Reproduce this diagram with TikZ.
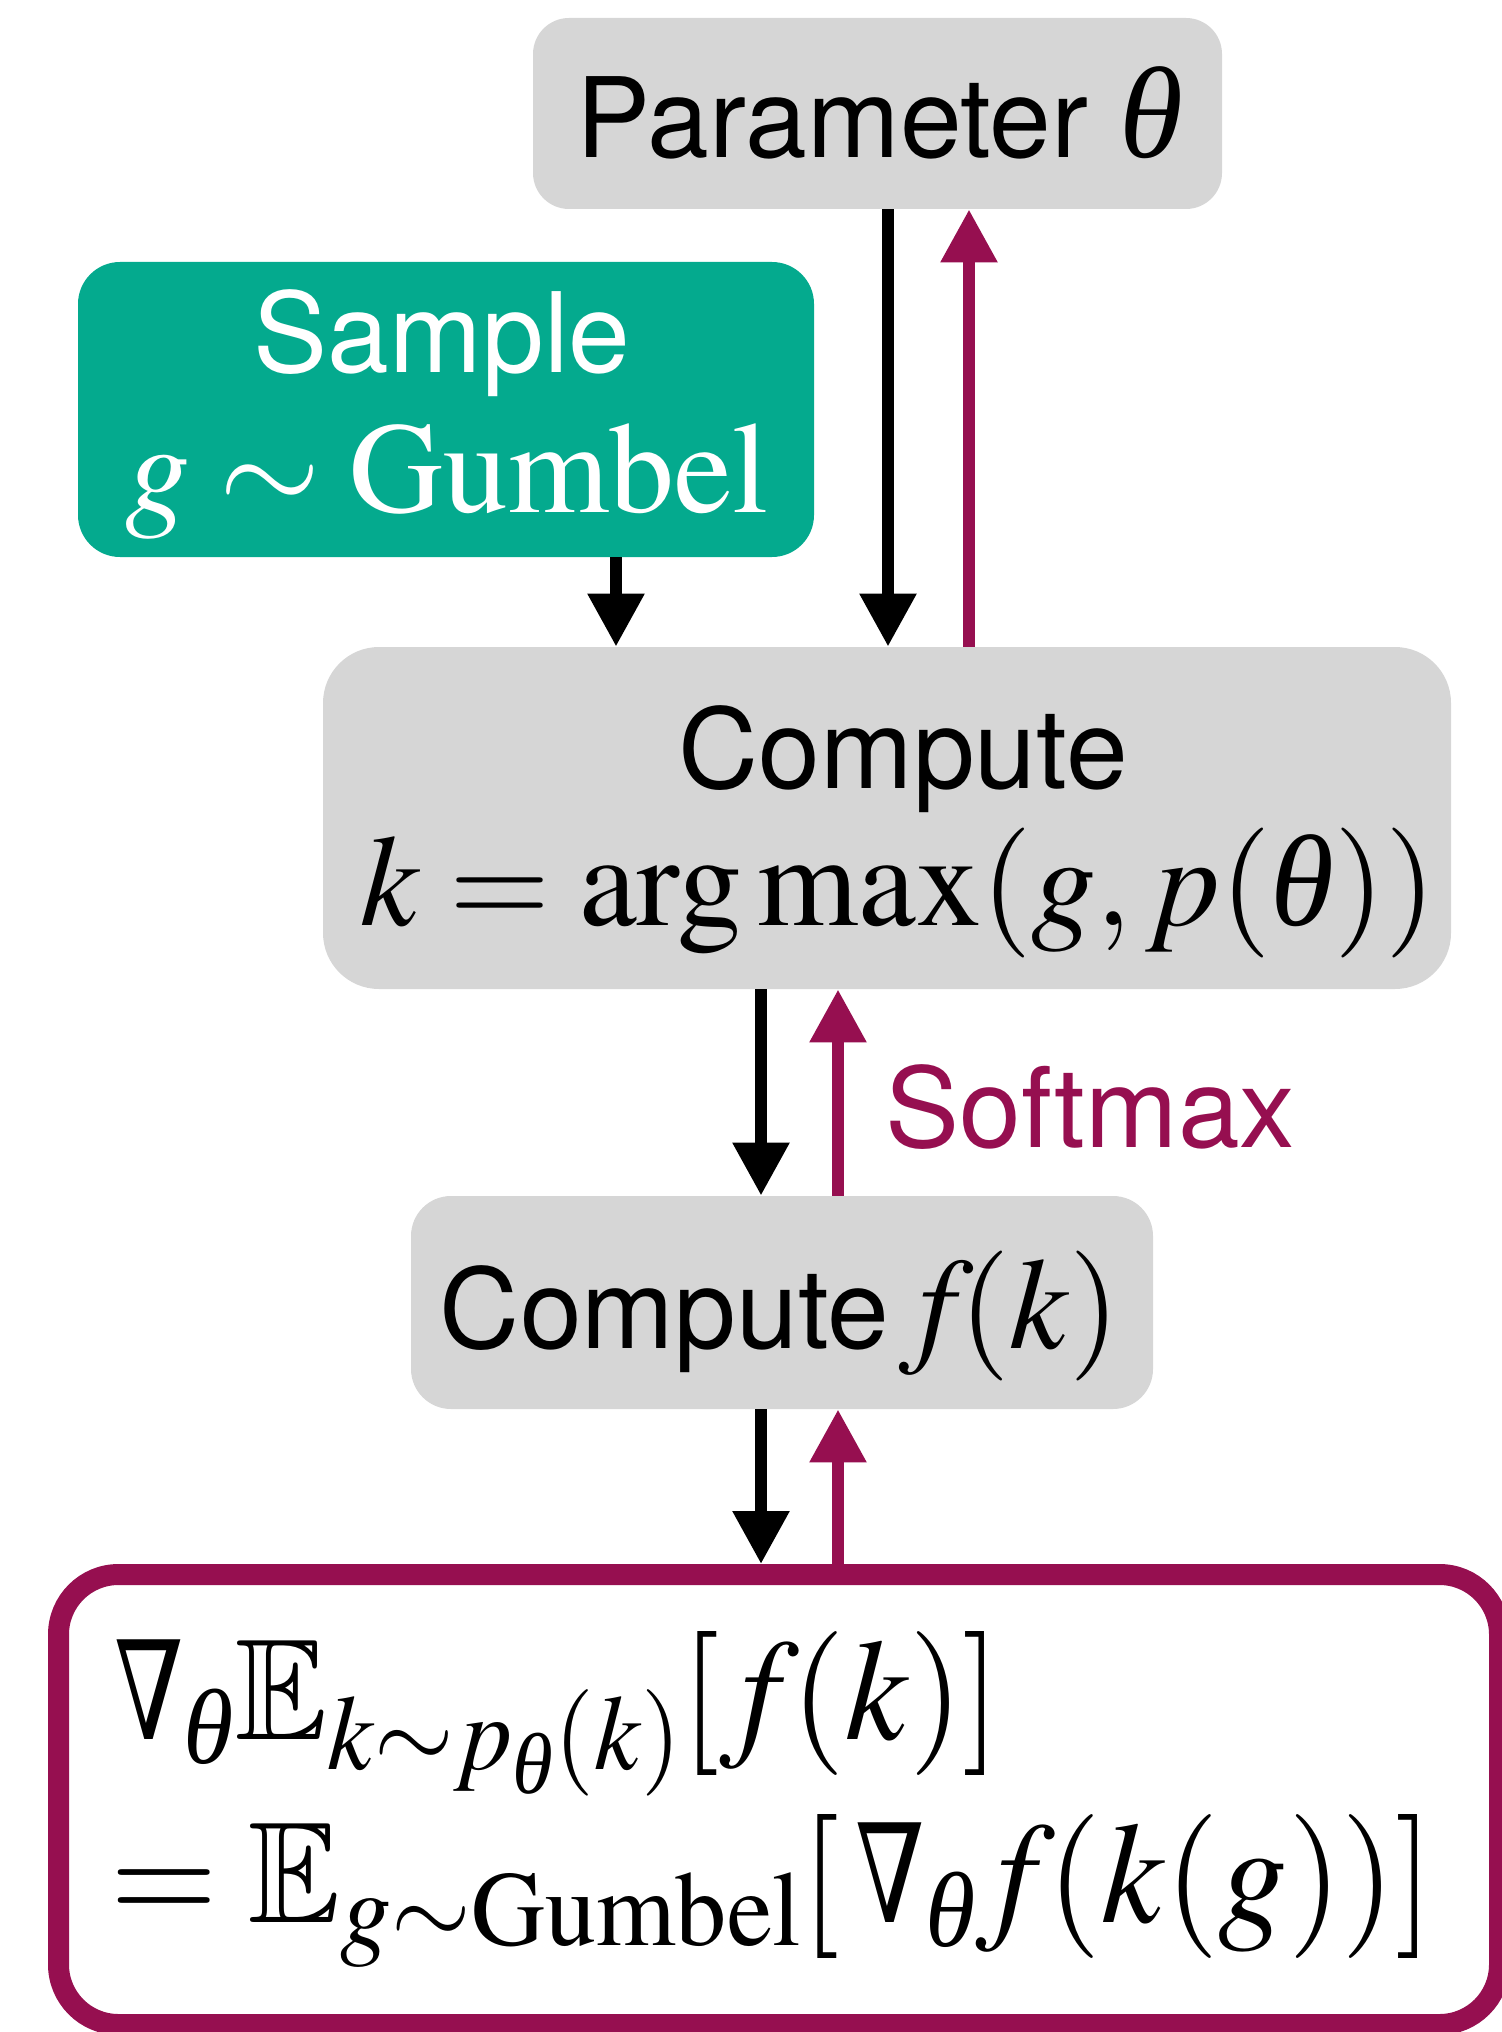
\documentclass[tikz,border=0pt]{standalone}
\usepackage{graphicx}
\usepackage{amsmath}
\usepackage{amssymb}
\usepackage{mathptmx}
\usepackage[no-math]{fontspec}
\setmainfont{TeX Gyre Heros}
\newfontfamily\greekserif{Liberation Serif}
\newfontfamily\nablafont{DejaVu Serif}
\usetikzlibrary{arrows.meta}

% italic theta and a slender nabla
\newcommand{\thv}{\text{\greekserif\itshape θ}}
\newcommand{\gradsym}{\mathord{\text{\scalebox{0.72}[0.95]{\nablafont ∇}}}}

\definecolor{boxgray}{RGB}{214,214,214}
\definecolor{gumbelteal}{RGB}{4,170,142}
\definecolor{gradpurple}{RGB}{150,15,80}

\newcommand{\txtsize}{\fontsize{55.5}{60}\selectfont}
\newcommand{\mathbig}[1]{{\fontsize{65}{72}\selectfont$#1$}}
\newcommand{\gradline}[1]{\scalebox{0.96}[1]{\fontsize{72}{80}\selectfont$#1$}}

\begin{document}
\begin{tikzpicture}[x=0.5pt,y=-0.5pt,
  graybox/.style={fill=boxgray, draw=none, inner sep=0pt},
  tealbox/.style={fill=gumbelteal, draw=none, inner sep=0pt},
  lbl/.style={inner sep=0pt, anchor=base, font=\txtsize},
  fwd/.style={draw=black, line width=6pt, -{Triangle[width=27pt,length=26.5pt]}},
  bwd/.style={draw=gradpurple, line width=6pt, -{Triangle[width=27pt,length=26.5pt]}}
]
\useasboundingbox (0,0) rectangle (1501,2032);

% boxes
\node[graybox, rounded corners=18pt, minimum width=344.5pt, minimum height=95.5pt] (param) at (877.5,113.5) {};
\node[tealbox, rounded corners=21pt, minimum width=368pt, minimum height=147.5pt] (sample) at (446,409.5) {};
\node[graybox, rounded corners=28pt, minimum width=564pt, minimum height=171pt] (argmax) at (887,818) {};
\node[graybox, rounded corners=20pt, minimum width=371pt, minimum height=106.5pt] (fk) at (782,1302.5) {};
\node[draw=gradpurple, line width=10.5pt, fill=white, rounded corners=30pt, inner sep=0pt,
      minimum width=720.5pt, minimum height=225pt] (est) at (779,1799.5) {};

% box texts
\node[lbl] (paramtxt) at (880,158) {Parameter \mathbig{\thv}};
\node[lbl, text=white] (sampletxt) at (442,373) {Sample};
\node[lbl, text=white] (gumbeltxt) at (447,512) {\mathbig{g\sim\mathrm{Gumbel}}};
\node[lbl] (computetxt) at (903,788) {Compute};
\node[lbl] (argmaxtxt) at (898,925) {\mathbig{k=\operatorname*{arg\,max}(g,p(\thv))}};
\node[lbl] (fktxt) at (780,1348) {Compute\hspace{5pt}\mathbig{f\mkern-2mu(k)}};
\node[lbl, anchor=base west, text=gradpurple] (softmax) at (885,1147) {Softmax};

\node[inner sep=0pt, anchor=base west] (line1) at (114,1739)
  {\gradline{\gradsym_{\thv}\mathbb{E}_{k\sim p_{\thv}(k)}[f\mkern-1mu(k)]}};
\node[inner sep=0pt, anchor=base west] (line2) at (110,1922)
  {\gradline{=\mathbb{E}_{g\sim\mathrm{Gumbel}}[\,\gradsym_{\thv}f\mkern-1mu(k(g))]}};

% forward pass
\draw[fwd] ([xshift=5.25pt]param.south) -- ([xshift=5.25pt]param.south |- argmax.north);
\draw[fwd] ([xshift=85pt]sample.south) -- ([xshift=85pt]sample.south |- argmax.north);
\draw[fwd] ([xshift=-63pt]argmax.south) -- ([xshift=-63pt]argmax.south |- fk.north);
\draw[fwd] ([xshift=-10.5pt]fk.south) -- ([xshift=-10.5pt]fk.south |- est.north);

% backward pass
\draw[bwd] ([xshift=41pt]argmax.north) -- ([xshift=41pt]argmax.north |- param.south);
\draw[bwd] ([xshift=28pt]fk.north) -- ([xshift=28pt]fk.north |- argmax.south);
\draw[bwd] ([xshift=28pt]fk.south |- est.north) -- ([xshift=28pt]fk.south);
\end{tikzpicture}
\end{document}
